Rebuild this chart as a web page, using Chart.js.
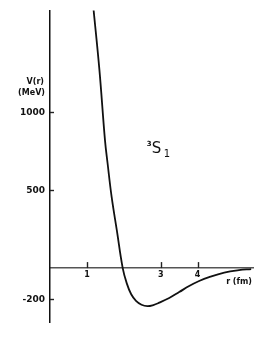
<!DOCTYPE html>
<html><head><meta charset="utf-8">
<script src="https://cdn.jsdelivr.net/npm/chart.js@4/dist/chart.umd.min.js"></script>
<style>html,body{margin:0;padding:0;background:#fff;}canvas{display:block;}</style>
</head><body>
<canvas id="c" width="277" height="346"></canvas>
<script>
// Potential V(r) for the 3S1 state
const rValues = [1.18, 1.34, 1.49, 1.56, 1.67, 1.81, 1.97, 2.08, 2.20, 2.33, 2.48, 2.64, 2.80, 2.96, 3.23, 3.50, 3.77, 4.04, 4.31, 4.72, 5.12, 5.45];
const vValues = [1660, 1269, 820, 673, 457, 244, 0, -98, -168, -210, -235, -244, -237, -222, -192, -154, -115, -83, -58, -29, -13, -6];
const xTickValues = [1, 3, 4];
const xTickLabels = ['1', '3', '4'];
const yTickValues = [-200, 500, 1000];
const yTickLabels = ['-200', '500', '1000'];
const yAxisTitle = ['V(r)', '(MeV)'];
const xAxisTitle = 'r (fm)';
const stateLabel = { sup: '3', main: 'S', sub: '1' };

const points = rValues.map((r, i) => ({ x: r, y: vValues[i] }));

const annotate = {
  id: 'annotate',
  afterDraw(chart) {
    const ctx = chart.ctx;
    const xs = chart.scales.x, ys = chart.scales.y;
    const y0 = ys.getPixelForValue(0);
    ctx.save();
    ctx.strokeStyle = '#222';
    ctx.lineWidth = 1.4;
    // x tick marks (above the axis)
    xTickValues.forEach(v => {
      const px = Math.round(xs.getPixelForValue(v)) + 0.5;
      ctx.beginPath(); ctx.moveTo(px, y0 - 6); ctx.lineTo(px, y0); ctx.stroke();
    });
    // y tick marks (right of the axis)
    yTickValues.forEach(v => {
      const py = Math.round(ys.getPixelForValue(v)) + 0.5;
      ctx.beginPath(); ctx.moveTo(ys.right, py); ctx.lineTo(ys.right + 4, py); ctx.stroke();
    });
    ctx.fillStyle = '#111';
    // y axis title
    ctx.font = "bold 8px 'DejaVu Sans'";
    ctx.textAlign = 'right';
    ctx.textBaseline = 'middle';
    ctx.fillText(yAxisTitle[0], ys.right - 6, ys.getPixelForValue(1195));
    ctx.fillText(yAxisTitle[1], ys.right - 5, ys.getPixelForValue(1125));
    // x axis title
    ctx.fillText(xAxisTitle, xs.right - 1, y0 + 14);
    // 3S1 label
    ctx.textAlign = 'left';
    ctx.textBaseline = 'alphabetic';
    const lx = xs.getPixelForValue(2.76), ly = ys.getPixelForValue(737);
    ctx.font = "bold 7px 'DejaVu Sans'";
    ctx.fillText(stateLabel.sup, lx - 5, ly - 7);
    ctx.font = "15px 'DejaVu Sans'";
    ctx.fillText(stateLabel.main, lx, ly);
    ctx.font = "10px 'DejaVu Sans'";
    ctx.fillText(stateLabel.sub, lx + 12, ly + 4);
    ctx.restore();
  }
};

new Chart(document.getElementById('c'), {
  type: 'scatter',
  data: {
    datasets: [{
      data: points,
      showLine: true,
      borderColor: '#111',
      borderWidth: 1.8,
      pointRadius: 0,
      tension: 0.4,
      fill: false
    }]
  },
  plugins: [annotate],
  options: {
    responsive: false,
    animation: false,
    devicePixelRatio: 1,
    layout: { padding: { top: 10, right: 24, bottom: 24, left: 0 } },
    plugins: { legend: { display: false }, tooltip: { enabled: false } },
    scales: {
      x: {
        type: 'linear',
        position: { y: 0 },
        min: 0, max: 5.5,
        afterBuildTicks: s => { s.ticks = xTickValues.map(v => ({ value: v })); },
        ticks: {
          callback: v => xTickLabels[xTickValues.indexOf(v)],
          color: '#111',
          font: { family: 'DejaVu Sans', size: 8, weight: 'bold' },
          padding: 2,
          maxRotation: 0
        },
        grid: { drawOnChartArea: false, drawTicks: false },
        border: { display: true, color: '#555', width: 1.5 }
      },
      y: {
        type: 'linear',
        min: -346, max: 1654,
        afterBuildTicks: s => { s.ticks = yTickValues.map(v => ({ value: v })); },
        afterFit: s => { s.width = 50; },
        ticks: {
          callback: v => yTickLabels[yTickValues.indexOf(v)],
          color: '#111',
          font: { family: 'DejaVu Sans', size: 9, weight: 'bold' },
          padding: 5
        },
        grid: { drawOnChartArea: false, drawTicks: false },
        border: { display: true, color: '#111', width: 1.5 }
      }
    }
  }
});
</script>
</body></html>
